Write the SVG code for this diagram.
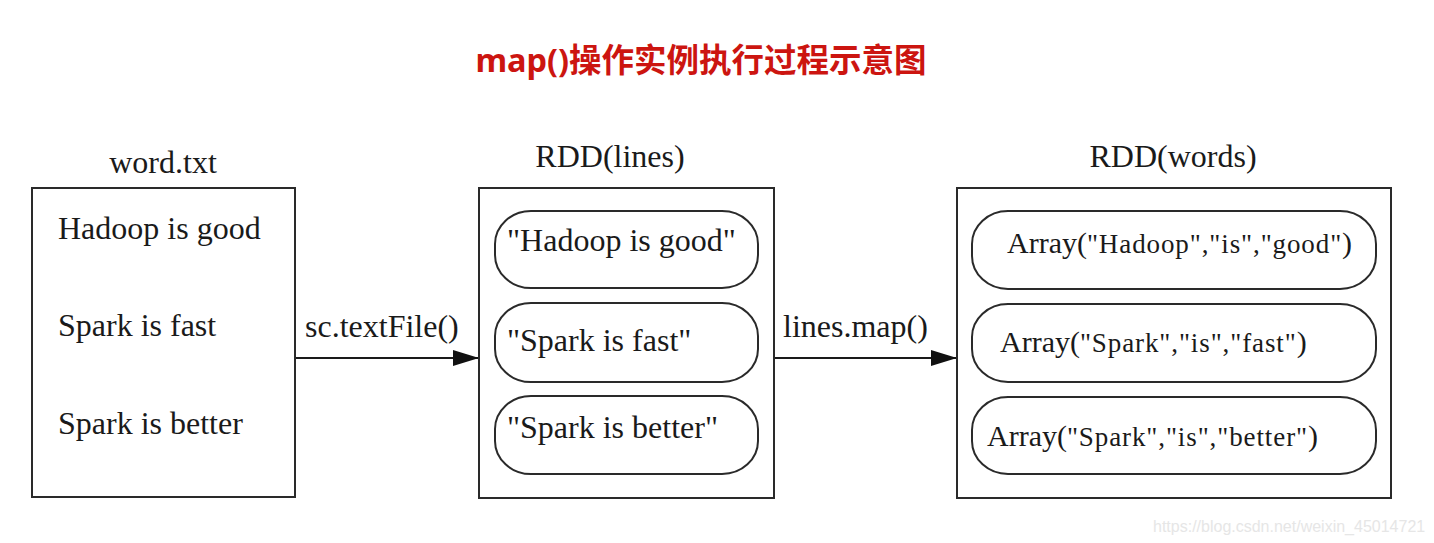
<svg xmlns="http://www.w3.org/2000/svg" width="1434" height="543" viewBox="0 0 1434 543">
  <style>
    .box { fill: #ffffff; stroke: #2a2a2a; stroke-width: 2; }
    .pill { fill: #ffffff; stroke: #2a2a2a; stroke-width: 2; }
    .t { font-family: "Liberation Serif", "Times New Roman", serif; font-size: 32px; fill: #1a1a1a; }
    .arr { font-family: "Liberation Serif", "Times New Roman", serif; font-size: 30px; fill: #1a1a1a; }
    .inner { font-size: 27px; letter-spacing: 0.9px; }
    .title { font-family: "Noto Sans", "Noto Sans CJK SC", sans-serif; font-weight: bold; font-size: 32.5px; fill: #cc1510; }
    .edge { stroke: #1a1a1a; stroke-width: 2; fill: none; }
    .wm { font-family: "Liberation Sans", Arial, sans-serif; font-size: 16px; fill: #e6e6e6; }
  </style>
  <defs>
    <marker id="ah2" viewBox="0 0 26 16" refX="26" refY="8" markerWidth="26" markerHeight="16" orient="auto" markerUnits="userSpaceOnUse">
      <path d="M0,0 L26,8 L0,16 Z" fill="#111111"/>
    </marker>
  </defs>
  <rect width="1434" height="543" fill="#ffffff"/>

  <text class="title" x="701" y="72" text-anchor="middle">map()操作实例执行过程示意图</text>

  <g id="connectors">
    <line class="edge" x1="295" y1="358" x2="479" y2="358" marker-end="url(#ah2)"/>
    <text class="t" x="305" y="337">sc.textFile()</text>
    <line class="edge" x1="774" y1="358" x2="957" y2="358" marker-end="url(#ah2)"/>
    <text class="t" x="783" y="337">lines.map()</text>
  </g>

  <g id="word-txt">
    <text class="t" x="163" y="173" text-anchor="middle">word.txt</text>
    <rect class="box" x="32" y="188" width="263" height="309"/>
    <text class="t" x="58" y="239">Hadoop is good</text>
    <text class="t" x="58" y="336">Spark is fast</text>
    <text class="t" x="58" y="434">Spark is better</text>
  </g>

  <g id="rdd-lines">
    <text class="t" x="610" y="167" text-anchor="middle">RDD(lines)</text>
    <rect class="box" x="479" y="188" width="295" height="310"/>
    <g id="line-1">
      <rect class="pill" x="495" y="211" width="263" height="77" rx="36" ry="33"/>
      <text class="t" x="507" y="251">"Hadoop is good"</text>
    </g>
    <g id="line-2">
      <rect class="pill" x="495" y="303" width="263" height="79" rx="36" ry="33"/>
      <text class="t" x="507" y="351">"Spark is fast"</text>
    </g>
    <g id="line-3">
      <rect class="pill" x="495" y="396" width="263" height="78" rx="36" ry="33"/>
      <text class="t" x="507" y="438">"Spark is better"</text>
    </g>
  </g>

  <g id="rdd-words">
    <text class="t" x="1173" y="167" text-anchor="middle">RDD(words)</text>
    <rect class="box" x="957" y="188" width="434" height="310"/>
    <g id="words-1">
      <rect class="pill" x="972" y="211" width="404" height="78" rx="36" ry="33"/>
      <text class="arr" x="1007" y="253">Array(<tspan class="inner">"Hadoop","is","good"</tspan>)</text>
    </g>
    <g id="words-2">
      <rect class="pill" x="972" y="304" width="404" height="78" rx="36" ry="33"/>
      <text class="arr" x="1000" y="352">Array(<tspan class="inner">"Spark","is","fast"</tspan>)</text>
    </g>
    <g id="words-3">
      <rect class="pill" x="972" y="397" width="404" height="77" rx="36" ry="33"/>
      <text class="arr" x="987" y="446">Array(<tspan class="inner">"Spark","is","better"</tspan>)</text>
    </g>
  </g>

  <text class="wm" x="1153" y="532">https://blog.csdn.net/weixin_45014721</text>
</svg>
